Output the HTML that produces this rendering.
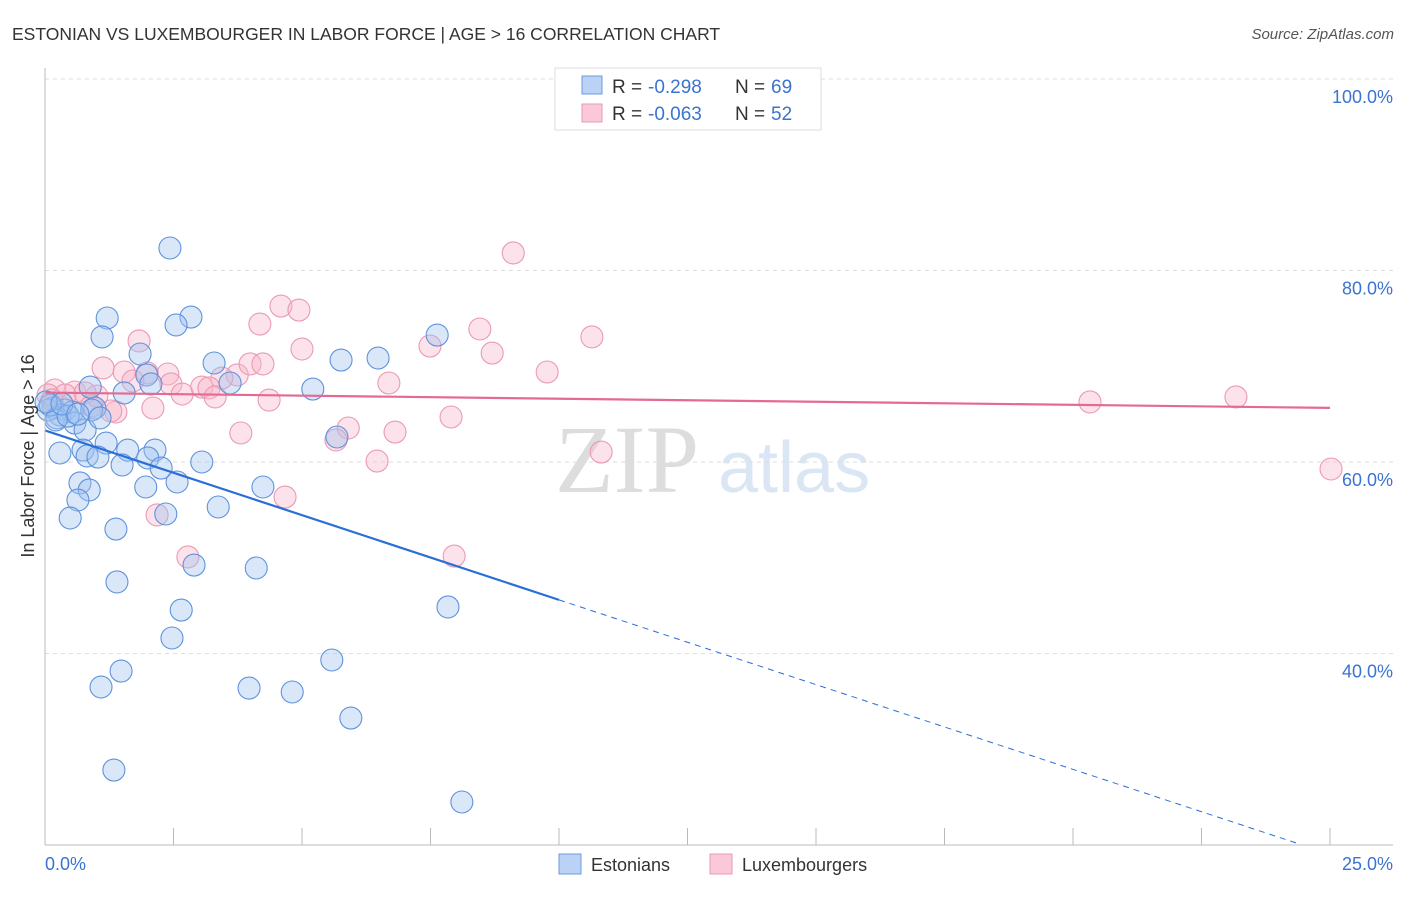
<!DOCTYPE html>
<html><head><meta charset="utf-8"><style>
body{margin:0;background:#fff;font-family:"Liberation Sans",sans-serif}
svg text{font-family:"Liberation Sans",sans-serif}
</style></head><body>
<svg id="c" width="1406" height="892">
<text x="12" y="40" font-size="17.5" fill="#333">ESTONIAN VS LUXEMBOURGER IN LABOR FORCE | AGE &gt; 16 CORRELATION CHART</text>
<text x="1394" y="39" font-size="15" fill="#555" font-style="italic" text-anchor="end">Source: ZipAtlas.com</text>
<text x="555" y="492" font-size="96" fill="#ddd" style="font-family:'Liberation Serif',serif">ZIP</text>
<text x="718" y="492" font-size="72" fill="#dbe6f5">atlas</text>
<g id="grid"></g><g id="pts"></g><g id="lines"></g>
<line x1="45" y1="68" x2="45" y2="845" stroke="#bbb"/>
<line x1="45" y1="845" x2="1393" y2="845" stroke="#bbb"/>
<text x="45" y="870" font-size="18" fill="#3b73d0">0.0%</text>
<text x="1393" y="870" font-size="18" fill="#3b73d0" text-anchor="end">25.0%</text>
<text transform="translate(34,456) rotate(-90)" font-size="18" fill="#333" text-anchor="middle">In Labor Force | Age &gt; 16</text>
<g>
<rect x="555" y="68" width="266" height="62" fill="#fff" stroke="#ddd"/>
<rect x="582" y="76" width="20" height="18" fill="#b9d2f5" stroke="#6d9be0"/>
<rect x="582" y="104" width="20" height="18" fill="#fbc8d7" stroke="#ea9ab3"/>
<text x="612" y="93" font-size="19" fill="#333">R =</text><text x="648" y="93" font-size="19" fill="#3b73d0">-0.298</text>
<text x="735" y="93" font-size="19" fill="#333">N =</text><text x="771" y="93" font-size="19" fill="#3b73d0">69</text>
<text x="612" y="120" font-size="19" fill="#333">R =</text><text x="648" y="120" font-size="19" fill="#3b73d0">-0.063</text>
<text x="735" y="120" font-size="19" fill="#333">N =</text><text x="771" y="120" font-size="19" fill="#3b73d0">52</text>
</g>
<g><rect x="559" y="854" width="22" height="20" fill="#b9d2f5" stroke="#6d9be0"/><text x="591" y="871" font-size="18" fill="#333">Estonians</text></g>
<g><rect x="710" y="854" width="22" height="20" fill="#fbc8d7" stroke="#ea9ab3"/><text x="742" y="871" font-size="18" fill="#333">Luxembourgers</text></g>
</svg>
<script>
const yTicks=[100,80,60,40];
const xTicks=[0,2.5,5,7.5,10,12.5,15,17.5,20,22.5,25];
const estX=[2.43,1.21,2.84,2.55,1.11,1.85,3.29,5.76,6.48,7.63,1.98,2.06,0.88,1.54,3.60,5.21,0.16,0.39,0.53,0.97,0.29,0.06,0.58,0.78,0.23,5.68,1.19,0.74,1.61,2.14,0.29,0.82,1.03,1.50,2.00,2.26,3.05,2.57,4.24,0.68,0.86,1.96,0.64,3.37,0.49,2.35,1.38,2.90,4.11,1.40,2.65,7.84,2.47,5.58,1.48,1.09,3.97,4.81,5.95,1.34,8.11,0.10,0.21,0.45,0.91,0.02,0.33,0.64,1.07];
const estY=[82.35,75.04,75.14,74.31,73.06,71.28,70.34,70.65,70.86,73.26,69.09,68.15,67.83,67.21,68.25,67.62,65.64,65.43,65.22,65.64,64.91,65.43,64.07,63.34,64.6,62.61,61.98,61.25,61.25,61.25,60.94,60.63,60.52,59.69,60.42,59.37,60.0,57.91,57.39,57.81,57.08,57.39,56.03,55.3,54.15,54.57,53.0,49.24,48.93,47.47,44.54,44.86,41.62,39.32,38.17,36.5,36.39,35.98,33.26,27.83,24.49,65.95,64.39,64.8,65.43,66.27,66.06,65.01,64.6];
const luxX=[9.11,4.59,4.94,4.18,8.46,10.64,1.83,5.00,7.49,8.70,1.13,1.54,1.99,2.39,3.74,3.99,4.24,3.44,1.71,2.45,3.05,3.19,2.67,3.31,4.36,6.69,9.77,20.33,23.17,25.02,10.82,7.90,6.81,5.90,5.66,3.81,6.46,4.67,2.18,2.78,7.96,2.10,1.38,1.28,1.01,0.58,0.19,0.06,0.39,0.78,0.14,0.91];
const luxY=[81.83,76.29,75.87,74.41,73.89,73.06,72.64,71.8,72.11,71.38,69.82,69.4,69.3,69.19,69.09,70.24,70.24,68.77,68.46,68.15,67.83,67.73,67.1,66.79,66.47,68.25,69.4,66.27,66.79,59.27,61.04,64.7,63.13,63.55,62.3,63.03,60.1,56.34,54.47,50.08,50.18,65.64,65.22,65.33,66.89,67.31,67.52,67.0,67.0,67.21,66.48,65.85];
const estTrend=[63.3,-1.77];
const luxTrend=[67.25,-0.064];
const X=v=>45+v/25*1285, Y=v=>79+(100-v)*9.575;
const NS='http://www.w3.org/2000/svg';
function mk(p,t,a){const e=document.createElementNS(NS,t);for(const k in a)e.setAttribute(k,a[k]);p.appendChild(e);return e;}
const g=document.getElementById('grid');
yTicks.forEach(v=>{
 const l=mk(g,'line',{x1:45,x2:1393,y1:Y(v),y2:Y(v),stroke:'#ddd','stroke-dasharray':'4,4'});
 
 
 const t=mk(g,'text',{x:1393,y:Y(v)+24,'font-size':18,fill:'#3b73d0','text-anchor':'end'});t.textContent=v.toFixed(1)+'%';
 
 
});
xTicks.forEach(v=>{
 const l=mk(g,'line',{x1:X(v),x2:X(v),y1:828,y2:845,stroke:'#bbb'});
 
 
});
const p=document.getElementById('pts');
luxX.forEach((v,i)=>{const c=mk(p,'circle',{cx:X(v),cy:Y(luxY[i]),r:11,fill:'rgba(248,182,202,0.4)',stroke:'#eb9ab4','stroke-width':1.1});
 
 });
estX.forEach((v,i)=>{const c=mk(p,'circle',{cx:X(v),cy:Y(estY[i]),r:11,fill:'rgba(160,196,240,0.4)',stroke:'#5f93dd','stroke-width':1.1});
 
 });
const L=document.getElementById('lines');
const f=(t,x)=>t[0]+t[1]*x;
let a=mk(L,'line',{x1:X(0),y1:Y(f(estTrend,0)),x2:X(10),y2:Y(f(estTrend,10)),stroke:'#2a6fd6','stroke-width':2.2});


a=mk(L,'line',{x1:X(10),y1:Y(f(estTrend,10)),x2:X(24.4),y2:Y(f(estTrend,24.4)),stroke:'#2a6fd6','stroke-width':1,'stroke-dasharray':'6,5'});


a=mk(L,'line',{x1:X(0),y1:Y(f(luxTrend,0)),x2:X(25),y2:Y(f(luxTrend,25)),stroke:'#e46a93','stroke-width':2.2});


</script>
</body></html>
